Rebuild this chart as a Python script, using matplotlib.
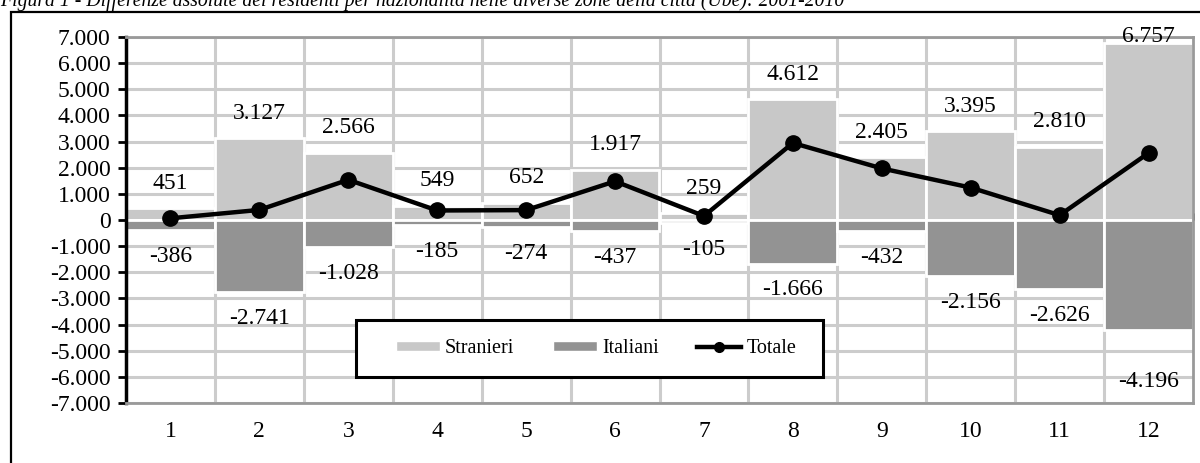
import matplotlib
matplotlib.use("Agg")
import matplotlib.pyplot as plt
from matplotlib.patches import Rectangle, Patch
from matplotlib.lines import Line2D
import numpy as np

# Zones of the city and the 2001-2010 differences in residents
zone = ["1", "2", "3", "4", "5", "6", "7", "8", "9", "10", "11", "12"]
stranieri = [451, 3127, 2566, 549, 652, 1917, 259, 4612, 2405, 3395, 2810, 6757]
italiani = [-386, -2741, -1028, -185, -274, -437, -105, -1666, -432, -2156, -2626, -4196]
totale = [s + i for s, i in zip(stranieri, italiani)]

y_ticks = list(range(-7000, 7001, 1000))

def fmt_it(v):
    s = f"{abs(v):,}".replace(",", ".")
    return ("-" if v < 0 else "") + s

# Vertical offsets (points) of the value labels from the bar ends
off_pos = [18] * 12
off_pos[11] = 5
off_neg = [19] * 12
off_neg[11] = 37

FS = 17
LEG_FS = 14.5
W, H = 1200, 463
fig = plt.figure(figsize=(W / 100, H / 100), dpi=100)
serif = ["Liberation Serif", "DejaVu Serif"]
plt.rcParams["font.family"] = serif

ax = fig.add_axes([126 / W, 1 - 403 / H, (1193 - 126) / W, (403 - 37) / H])

LIGHT = "#c8c8c8"
DARK = "#939393"
GRID = "#cccccc"

x = np.arange(len(zone))
ax.set_xlim(-0.5, len(zone) - 0.5)
ax.set_ylim(-7000, 7000)

# grid: horizontal at every 1000, vertical between zones
for yv in y_ticks:
    ax.axhline(yv, color=GRID, lw=2.2, zorder=0)
for xb in np.arange(0.5, len(zone) - 0.5, 1):
    ax.axvline(xb, color=GRID, lw=2.2, zorder=0)

ax.bar(x, stranieri, width=1.0, color=LIGHT, edgecolor="white", linewidth=2, zorder=2)
ax.bar(x, italiani, width=1.0, color=DARK, edgecolor="white", linewidth=2, zorder=2)
ax.plot(x, totale, color="black", lw=3.2, marker="o", markersize=11, zorder=5)

for xi, v, o in zip(x, stranieri, off_pos):
    ax.annotate(fmt_it(v), (xi, v), xytext=(0, o), textcoords="offset points",
                ha="center", va="center", fontsize=FS, zorder=6)
for xi, v, o in zip(x, italiani, off_neg):
    ax.annotate(fmt_it(v), (xi, v), xytext=(0, -o), textcoords="offset points",
                ha="center", va="center", fontsize=FS, zorder=6)

# axes styling
ax.set_yticks(y_ticks)
ax.set_yticklabels([fmt_it(v) for v in y_ticks], fontsize=FS)
ax.set_xticks(x)
ax.set_xticklabels(zone, fontsize=FS)
ax.tick_params(axis="x", length=0, pad=13)
ax.tick_params(axis="y", direction="out", length=6, width=2, pad=5)
for s in ["top", "right", "bottom"]:
    ax.spines[s].set_color("#999999")
    ax.spines[s].set_linewidth(2)
ax.spines["left"].set_color("black")
ax.spines["left"].set_linewidth(2.5)

# zero line with category separators
zero = ax.secondary_xaxis(0.5)
zero.set_xticks(np.arange(-0.5, len(zone), 1))
zero.set_xticklabels([])
zero.tick_params(direction="out", length=5, width=2, color="black")
zero.spines["bottom"].set_linewidth(2.2)
zero.spines["bottom"].set_color("black")
zero.spines["bottom"].set_zorder(4)

# legend: entries without frame, boxed by a separate rectangle
handles = [
    Patch(facecolor=LIGHT, edgecolor="white", label="Stranieri"),
    Patch(facecolor=DARK, edgecolor="white", label="Italiani"),
    Line2D([], [], color="black", lw=3.2, marker="o", markersize=7, label="Totale"),
]
leg_box = Rectangle((356 / W, 1 - 377 / H), (823 - 356) / W, 57 / H,
                    transform=fig.transFigure, facecolor="white",
                    edgecolor="black", lw=2.2, zorder=9)
fig.patches.append(leg_box)
leg = fig.legend(handles=handles, loc="center", ncol=3,
                 bbox_to_anchor=(596 / W, 1 - 348.5 / H),
                 fontsize=LEG_FS, frameon=False,
                 handlelength=2.2, handleheight=0.42, handletextpad=0.25,
                 columnspacing=1.9, borderpad=0.2)
leg.set_zorder(10)

# outer frame and caption
fig.patches.append(Rectangle((11 / W, -0.1), 1.2, 1 - 12 / H + 0.1,
                             transform=fig.transFigure, fill=False,
                             edgecolor="black", lw=1.6))
fig.text(0.0, 1 - 6 / H,
         "Figura 1 - Differenze assolute dei residenti per nazionalità nelle diverse zone della città (Ube): 2001-2010",
         fontsize=14.2, style="italic", va="baseline", ha="left")

fig.savefig("out.png", dpi=100)
